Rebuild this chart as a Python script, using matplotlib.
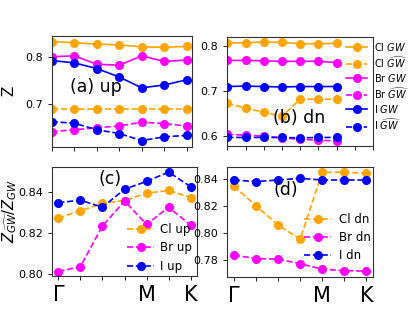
import numpy as np
import matplotlib
matplotlib.use("Agg")
import matplotlib.pyplot as plt

# k-path points: Gamma ... M ... K
kpts = np.arange(7)
klabels = ['Γ', '', '', '', 'M', '', 'K']

# (a) spin up, Z
cl_gw_up = [0.833, 0.831, 0.828, 0.826, 0.822, 0.821, 0.823]
cl_gwh_up = [0.689, 0.689, 0.689, 0.689, 0.689, 0.689, 0.689]
br_gw_up = [0.801, 0.803, 0.785, 0.783, 0.803, 0.791, 0.794]
br_gwh_up = [0.642, 0.646, 0.650, 0.654, 0.662, 0.659, 0.654]
i_gw_up = [0.793, 0.788, 0.776, 0.758, 0.735, 0.741, 0.752]
i_gwh_up = [0.663, 0.660, 0.646, 0.638, 0.623, 0.631, 0.634]

# (b) spin down, Z
cl_gw_dn = [0.807, 0.807, 0.809, 0.808, 0.805, 0.805, 0.806]
cl_gwh_dn = [0.673, 0.662, 0.653, 0.644, 0.682, 0.682, 0.682]
br_gw_dn = [0.768, 0.768, 0.767, 0.766, 0.766, 0.766, 0.763]
br_gwh_dn = [0.604, 0.602, 0.600, 0.596, 0.593, 0.591, 0.589]
i_gw_dn = [0.710, 0.711, 0.710, 0.709, 0.710, 0.710, 0.710]
i_gwh_dn = [0.597, 0.597, 0.597, 0.597, 0.596, 0.597, 0.597]

# (c) ratio, spin up
cl_ratio_up = [0.8272, 0.8306, 0.8343, 0.8356, 0.8392, 0.8405, 0.8371]
br_ratio_up = [0.8013, 0.8037, 0.8233, 0.8354, 0.8241, 0.8324, 0.8237]
i_ratio_up = [0.8346, 0.8358, 0.8324, 0.8411, 0.8449, 0.8494, 0.8423]

# (d) ratio, spin down
cl_ratio_dn = [0.8350, 0.8202, 0.8060, 0.7954, 0.8452, 0.8452, 0.8445]
br_ratio_dn = [0.7835, 0.7810, 0.7805, 0.7772, 0.7730, 0.7720, 0.7716]
i_ratio_dn = [0.8395, 0.8383, 0.8395, 0.8407, 0.8395, 0.8395, 0.8395]

c_cl, c_br, c_i = 'orange', 'magenta', 'blue'
ms = 5.5
lw = 1.2

fig = plt.figure(figsize=(4.15, 3.11), dpi=100)
ax_a = fig.add_axes([0.1246, 0.5283, 0.3388, 0.3559])
ax_b = fig.add_axes([0.5477, 0.5305, 0.3511, 0.3521])
ax_c = fig.add_axes([0.1246, 0.1116, 0.3508, 0.3524])
ax_d = fig.add_axes([0.5477, 0.1109, 0.3511, 0.3531])

for ax in (ax_a, ax_b, ax_c, ax_d):
    ax.tick_params(labelsize=8, length=3, width=0.6)
    for s in ax.spines.values():
        s.set_color('#333333')
        s.set_linewidth(0.8)

# (a)
ax_a.plot(kpts, cl_gw_up, '-o', color=c_cl, ms=ms, lw=lw)
ax_a.plot(kpts, cl_gwh_up, '--o', color=c_cl, ms=ms, lw=lw)
ax_a.plot(kpts, br_gw_up, '-o', color=c_br, ms=ms, lw=lw)
ax_a.plot(kpts, br_gwh_up, '--o', color=c_br, ms=ms, lw=lw)
ax_a.plot(kpts, i_gw_up, '-o', color=c_i, ms=ms, lw=lw)
ax_a.plot(kpts, i_gwh_up, '--o', color=c_i, ms=ms, lw=lw)
ax_a.set_xlim(0, 6.25)
ax_a.set_ylim(0.610, 0.845)
ax_a.set_xticks(kpts)
ax_a.set_xticklabels([])
ax_a.set_yticks([0.7, 0.8])
ax_a.set_ylabel('Z', fontsize=11)
ax_a.yaxis.set_label_coords(-0.249, 0.503)
ax_a.text(0.13, 0.539, '(a) up', transform=ax_a.transAxes, fontsize=12.5,
          ha='left', va='center')

# (b)
ax_b.plot(kpts, cl_gw_dn, '-o', color=c_cl, ms=ms, lw=lw, label='Cl $GW$')
ax_b.plot(kpts, cl_gwh_dn, '--o', color=c_cl, ms=ms, lw=lw, label=r'Cl $\widehat{GW}$')
ax_b.plot(kpts, br_gw_dn, '-o', color=c_br, ms=ms, lw=lw, label='Br $GW$')
ax_b.plot(kpts, br_gwh_dn, '--o', color=c_br, ms=ms, lw=lw, label=r'Br $\widehat{GW}$')
ax_b.plot(kpts, i_gw_dn, '-o', color=c_i, ms=ms, lw=lw, label='I $GW$')
ax_b.plot(kpts, i_gwh_dn, '--o', color=c_i, ms=ms, lw=lw, label=r'I $\widehat{GW}$')
ax_b.set_xlim(0, 8)
ax_b.set_ylim(0.578, 0.821)
ax_b.set_xticks(np.arange(9))
ax_b.set_xticklabels([])
ax_b.set_yticks([0.6, 0.7, 0.8])
ax_b.text(0.314, 0.256, '(b) dn', transform=ax_b.transAxes, fontsize=12.5,
          ha='left', va='center')
ax_b.legend(loc='center left', bbox_to_anchor=(346 / 415, 1 - 86.3 / 311),
            bbox_transform=fig.transFigure, frameon=False, fontsize=7,
            handlelength=2.2, handletextpad=0.7, borderpad=0, borderaxespad=0,
            labelspacing=0.2)

# (c)
ax_c.plot(kpts, cl_ratio_up, '--o', color=c_cl, ms=ms, lw=lw, label='Cl up')
ax_c.plot(kpts, br_ratio_up, '--o', color=c_br, ms=ms, lw=lw, label='Br up')
ax_c.plot(kpts, i_ratio_up, '--o', color=c_i, ms=ms, lw=lw, label='I up')
ax_c.set_xlim(-0.3, 6.3)
ax_c.set_ylim(0.799, 0.852)
ax_c.set_xticks(kpts)
ax_c.set_xticklabels(klabels)
ax_c.tick_params(axis='x', labelsize=15)
ax_c.set_yticks([0.80, 0.82, 0.84])
ax_c.set_ylabel(r'$Z_{\widehat{GW}}/Z_{GW}$', fontsize=10.5)
ax_c.yaxis.set_label_coords(-0.225, 0.596)
ax_c.text(0.318, 0.888, '(c)', transform=ax_c.transAxes, fontsize=12.5,
          ha='left', va='center')
ax_c.legend(loc='center left', bbox_to_anchor=(127 / 415, 1 - 248 / 311),
            bbox_transform=fig.transFigure, frameon=False, fontsize=8.5,
            handlelength=2.3, handletextpad=0.5, borderpad=0, borderaxespad=0,
            labelspacing=0.45)

# (d)
ax_d.plot(kpts, cl_ratio_dn, '--o', color=c_cl, ms=ms, lw=lw, label='Cl dn')
ax_d.plot(kpts, br_ratio_dn, '--o', color=c_br, ms=ms, lw=lw, label='Br dn')
ax_d.plot(kpts, i_ratio_dn, '--o', color=c_i, ms=ms, lw=lw, label='I dn')
ax_d.set_xlim(-0.3, 6.3)
ax_d.set_ylim(0.7676, 0.8494)
ax_d.set_xticks(kpts)
ax_d.set_xticklabels(klabels)
ax_d.tick_params(axis='x', labelsize=15)
ax_d.set_yticks([0.78, 0.80, 0.82, 0.84])
ax_d.text(0.314, 0.788, '(d)', transform=ax_d.transAxes, fontsize=12.5,
          ha='left', va='center')
ax_d.legend(loc='center left', bbox_to_anchor=(304 / 415, 1 - 237.5 / 311),
            bbox_transform=fig.transFigure, frameon=False, fontsize=8.5,
            handlelength=2.3, handletextpad=0.7, borderpad=0, borderaxespad=0,
            labelspacing=0.45)

fig.savefig('out.png', dpi=100)
